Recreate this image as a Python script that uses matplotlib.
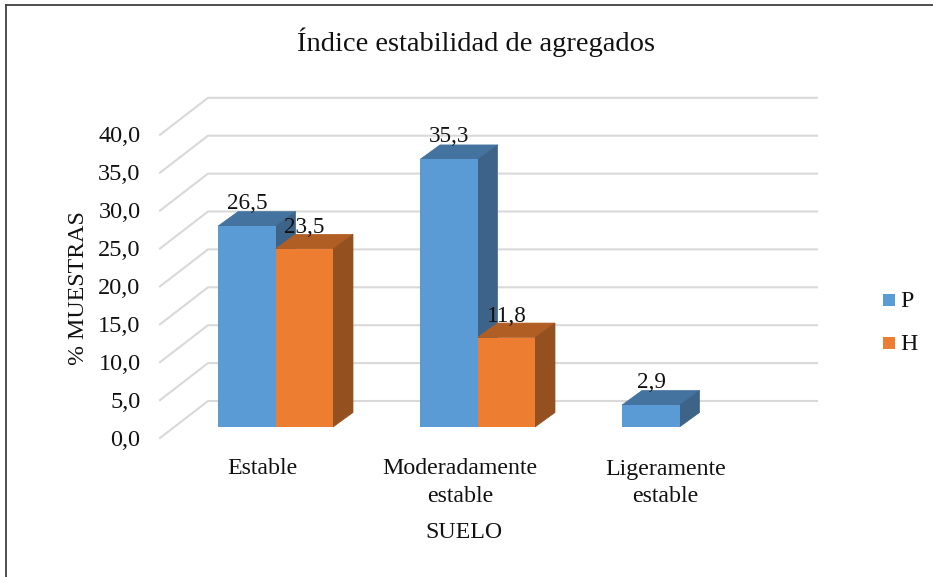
import matplotlib
matplotlib.use("Agg")
import numpy as np
import matplotlib.pyplot as plt
from matplotlib.patches import Polygon

plt.rcParams["font.family"] = ["Liberation Serif", "DejaVu Serif"]

categories = ["Estable", "Moderadamente\nestable", "Ligeramente\nestable"]
serie_p = [26.5, 35.3, 2.9]
serie_h = [23.5, 11.8, None]
y_ticks = [0, 5, 10, 15, 20, 25, 30, 35, 40]

W, H = 933, 577
X0, X_STEP = 275.5, 202.0  # pixel de la categoria 0 y paso entre categorias
Y0, Y_STEP = 427.0, 7.58   # pixel del valor 0 en el plano de las barras


def px_x(p):
    return (p - X0) / X_STEP


def px_y(p):
    return (Y0 - p) / Y_STEP


bar_w = 57.5 / X_STEP
depth_x = 20 / X_STEP
depth_y = 14.5 / Y_STEP

fig = plt.figure(figsize=(W / 100, H / 100), dpi=100)
ax = fig.add_axes([0, 0, 1, 1])
ax.set_xlim(px_x(0), px_x(W))
ax.set_ylim(px_y(H), px_y(0))
ax.axis("off")

# marco de la imagen
ax.plot([px_x(6), px_x(6)], [px_y(H), px_y(4.5)], color="#404040", lw=1.3, zorder=1)
ax.plot([px_x(6), px_x(W)], [px_y(4.5), px_y(4.5)], color="#404040", lw=1.3, zorder=1)

# rejilla: pared del fondo y piso
back_off = 26 / Y_STEP
front_off = -11 / Y_STEP
for t in y_ticks:
    ax.plot([px_x(160), px_x(208), px_x(817)],
            [t + front_off, t + back_off, t + back_off],
            color="#D9D9D9", lw=1.5, zorder=2, solid_joinstyle="miter")
    ax.text(px_x(140.5), t + front_off - 2 / Y_STEP, f"{t:.1f}".replace(".", ","),
            ha="right", va="center", fontsize=17.5, color="#111111")


def barra_3d(x, v, color, top, side, z):
    ax.bar(x, v, width=bar_w, align="edge", color=color, linewidth=0, zorder=z + 0.2)
    ax.add_patch(Polygon([(x, v), (x + depth_x, v + depth_y),
                          (x + bar_w + depth_x, v + depth_y), (x + bar_w, v)],
                         closed=True, facecolor=top, edgecolor=top, lw=0.5, zorder=z))
    ax.add_patch(Polygon([(x + bar_w, 0), (x + bar_w + depth_x, depth_y),
                          (x + bar_w + depth_x, v + depth_y), (x + bar_w, v)],
                         closed=True, facecolor=side, edgecolor=side, lw=0.5, zorder=z))


idx = np.arange(len(categories))
for i in idx:
    barra_3d(i - bar_w, serie_p[i], "#5B9BD5", "#44739F", "#3D6488", 3)
    if serie_h[i] is not None:
        barra_3d(i, serie_h[i], "#ED7D31", "#B15E25", "#95501F", 4)

# etiquetas de datos
for i in idx:
    ax.text(i - bar_w / 2 + 0.002, serie_p[i] + 22.5 / Y_STEP, f"{serie_p[i]:.1f}".replace(".", ","),
            ha="center", va="center", fontsize=16.7, color="#111111", zorder=6)
    if serie_h[i] is not None:
        ax.text(i + bar_w / 2 + 0.002, serie_h[i] + 21.5 / Y_STEP, f"{serie_h[i]:.1f}".replace(".", ","),
                ha="center", va="center", fontsize=16.7, color="#111111", zorder=6)

# etiquetas de categoria
cat_shift = [-13.5, -17.5, -14]
for i in idx:
    ax.text(i + cat_shift[i] / X_STEP, px_y(458.5), categories[i], ha="center", va="top",
            fontsize=17.2, color="#111111", linespacing=1.38)

ax.text(px_x(464), px_y(533), "SUELO", ha="center", va="center", fontsize=17.2, color="#111111")
ax.text(px_x(78), px_y(288), "% MUESTRAS", ha="center", va="center", rotation=90,
        fontsize=17.2, color="#111111")
ax.text(px_x(476), px_y(42), "Índice estabilidad de agregados", ha="center", va="center",
        fontsize=20.5, color="#111111")

# leyenda
ax.plot([px_x(889)], [px_y(299.5)], marker="s", ms=9, color="#5B9BD5", mew=0, ls="none", label="P")
ax.plot([px_x(889)], [px_y(342.5)], marker="s", ms=9, color="#ED7D31", mew=0, ls="none", label="H")
ax.text(px_x(900), px_y(301), "P", ha="left", va="center", fontsize=17.2, color="#111111")
ax.text(px_x(900), px_y(344), "H", ha="left", va="center", fontsize=17.2, color="#111111")

fig.savefig("out.png", dpi=100, facecolor="white")
